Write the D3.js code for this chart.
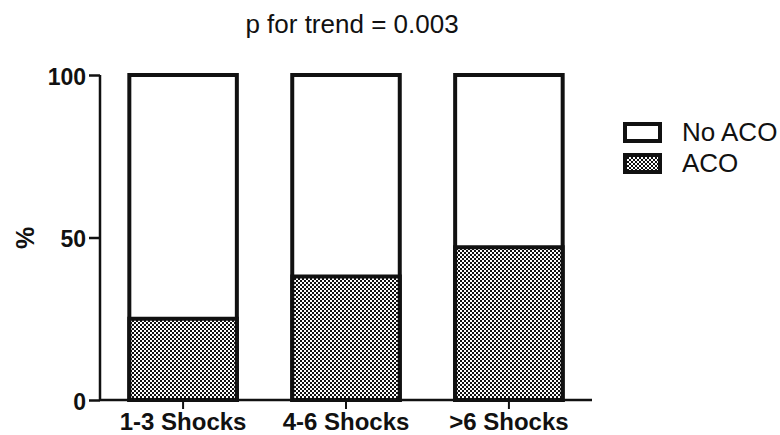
<!DOCTYPE html>
<html>
<head>
<meta charset="utf-8">
<script src="https://cdn.jsdelivr.net/npm/d3@7"></script>
<style>
  html, body { margin: 0; padding: 0; background: #fff; }
  svg { display: block; font-family: "Liberation Sans", Arial, sans-serif; }
  .axis text { font-weight: bold; fill: #111; }
  .axis line, .axis path { stroke: #111; }
</style>
</head>
<body>
<svg id="chart" width="780" height="435"></svg>
<script>
// Stacked 100% bars: ACO vs No ACO by number of shocks.
var categories = ['1-3 Shocks', '4-6 Shocks', '>6 Shocks'];
var acoPct = [25, 38, 47];
var yTicks = [0, 50, 100];
var legendLabels = ['No ACO', 'ACO'];

(function () {
    var svg = d3.select('#chart');

    var defs = svg.append('defs');
    var pat = defs.append('pattern')
        .attr('id', 'checker')
        .attr('patternUnits', 'userSpaceOnUse')
        .attr('width', 4).attr('height', 4);
    pat.append('rect').attr('width', 4).attr('height', 4).attr('fill', '#fff');
    pat.append('rect').attr('x', 0).attr('y', 0).attr('width', 2).attr('height', 2).attr('fill', '#111');
    pat.append('rect').attr('x', 2).attr('y', 2).attr('width', 2).attr('height', 2).attr('fill', '#111');

    var x = d3.scaleBand().domain(categories).range([100, 592])
        .paddingInner(0.34).paddingOuter(0.18);
    var y = d3.scaleLinear().domain([0, 100]).range([400, 75]);

    // Bars: full white box (No ACO) with patterned ACO segment at the bottom
    var g = svg.append('g');
    categories.forEach(function (c, i) {
        g.append('rect')
            .attr('x', x(c)).attr('y', y(100))
            .attr('width', x.bandwidth()).attr('height', y(0) - y(100))
            .attr('fill', '#fff').attr('stroke', '#111').attr('stroke-width', 4);
        g.append('rect')
            .attr('x', x(c)).attr('y', y(acoPct[i]))
            .attr('width', x.bandwidth()).attr('height', y(0) - y(acoPct[i]))
            .attr('fill', 'url(#checker)').attr('stroke', '#111').attr('stroke-width', 4);
    });

    // Axes
    var ay = svg.append('g').attr('class', 'axis')
        .attr('transform', 'translate(100,0)')
        .call(d3.axisLeft(y).tickValues(yTicks).tickSize(11).tickPadding(3));
    ay.select('.domain').attr('stroke-width', 2.5).attr('d', 'M0,' + y(100) + 'V' + y(0));
    ay.selectAll('.tick line').attr('stroke-width', 2.5);
    ay.selectAll('.tick text').attr('font-size', 23).attr('dy', '0.4em');

    var ax = svg.append('g').attr('class', 'axis')
        .attr('transform', 'translate(0,400)')
        .call(d3.axisBottom(x).tickSize(9).tickPadding(4));
    ax.select('.domain').attr('stroke-width', 2.5).attr('d', 'M100,0H592');
    ax.selectAll('.tick line').attr('stroke-width', 2);
    ax.selectAll('.tick text').attr('font-size', 24).attr('dy', '0.7em');

    // Y title
    svg.append('text')
        .attr('transform', 'translate(34,238) rotate(-90)')
        .attr('text-anchor', 'middle')
        .attr('font-size', 25).attr('font-weight', 'bold').attr('fill', '#111')
        .text('%');

    // Title
    svg.append('text')
        .attr('x', 352).attr('y', 33)
        .attr('text-anchor', 'middle')
        .attr('font-size', 26).attr('fill', '#111')
        .text('p for trend = 0.003');

    // Legend
    var leg = svg.append('g').attr('transform', 'translate(625,124)');
    legendLabels.forEach(function (lab, i) {
        var row = leg.append('g').attr('transform', 'translate(0,' + (i * 31) + ')');
        row.append('rect')
            .attr('x', 0).attr('y', 0).attr('width', 35).attr('height', 17)
            .attr('fill', i === 0 ? '#fff' : 'url(#checker)')
            .attr('stroke', '#111').attr('stroke-width', 4);
        row.append('text')
            .attr('x', 57).attr('y', 17)
            .attr('font-size', 26).attr('fill', '#111')
            .text(lab);
    });
})();
</script>
</body>
</html>
